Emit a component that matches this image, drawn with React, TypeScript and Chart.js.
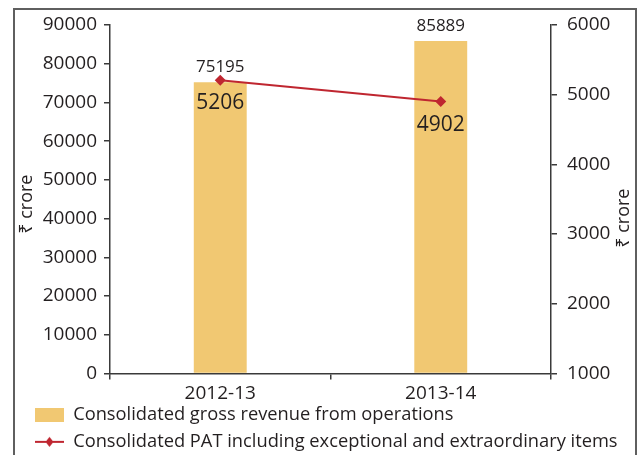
import React, { useEffect, useRef } from 'react';
import { Chart, registerables } from 'chart.js';

Chart.register(...registerables);

const categories = ['2012-13', '2013-14'];
const revenue = [75195, 85889];
const pat = [5206, 4902];
const revenueLabel = 'Consolidated gross revenue from operations';
const patLabel = 'Consolidated PAT including exceptional and extraordinary items';
const yTitle = '₹ crore';
const leftRange = [0, 90000, 10000];
const rightRange = [1000, 6000, 1000];

const FONT = '"Open Sans", "Noto Sans", "DejaVu Sans", sans-serif';
const BAR = '#F1C872';
const RED = '#BF2630';
const AXIS = '#3a3a3a';
const TXT = '#231F20';

export default function App() {
  const ref = useRef<HTMLCanvasElement>(null);

  useEffect(() => {
    const canvas = ref.current;
    if (!canvas) return;

    const swBar = document.createElement('canvas');
    swBar.width = 29;
    swBar.height = 14;
    const b = swBar.getContext('2d')!;
    b.fillStyle = BAR;
    b.fillRect(0, 0, 29, 14);

    const swLine = document.createElement('canvas');
    swLine.width = 29;
    swLine.height = 14;
    const l = swLine.getContext('2d')!;
    l.strokeStyle = RED;
    l.lineWidth = 2;
    l.beginPath();
    l.moveTo(0, 7);
    l.lineTo(29, 7);
    l.stroke();
    l.fillStyle = RED;
    l.beginPath();
    l.moveTo(14.5, 2);
    l.lineTo(18.5, 7);
    l.lineTo(14.5, 12);
    l.lineTo(10.5, 7);
    l.closePath();
    l.fill();

    const labelsPlugin = {
      id: 'valueLabels',
      afterLayout(chart: any) {
        const lg = chart.legend;
        if (lg) {
          lg.top -= 9;
          lg.bottom -= 9;
        }
      },
      afterDatasetsDraw(chart: any) {
        const ctx = chart.ctx;
        ctx.save();
        ctx.fillStyle = TXT;
        ctx.textAlign = 'center';
        ctx.textBaseline = 'alphabetic';
        ctx.font = `17px ${FONT}`;
        chart.getDatasetMeta(0).data.forEach((el: any, i: number) => {
          ctx.fillText(String(revenue[i]), el.x, el.y - 10);
        });
        ctx.font = `21px ${FONT}`;
        chart.getDatasetMeta(1).data.forEach((el: any, i: number) => {
          ctx.fillText(String(pat[i]), el.x, el.y + 29);
        });
        const ca = chart.chartArea;
        const mid = (ca.top + ca.bottom) / 2;
        ctx.font = `18px ${FONT}`;
        ctx.textBaseline = 'middle';
        ctx.save();
        ctx.translate(chart.scales.y.left + 1, mid + 5);
        ctx.rotate(-Math.PI / 2);
        ctx.fillText(yTitle, 0, 0);
        ctx.restore();
        ctx.save();
        ctx.translate(chart.scales.y1.right - 19, mid + 19);
        ctx.rotate(-Math.PI / 2);
        ctx.fillText(yTitle, 0, 0);
        ctx.restore();
        ctx.restore();
      },
    };

    const tickFont = { family: FONT, size: 19 };
    const gridOpts = { drawOnChartArea: false, drawTicks: true, tickLength: 6, color: AXIS, lineWidth: 1.5 };
    const borderOpts = { display: true, color: AXIS, width: 1.5 };

    const chart = new Chart(canvas, {
      type: 'bar',
      data: {
        labels: categories,
        datasets: [
          {
            type: 'bar',
            label: revenueLabel,
            data: revenue,
            backgroundColor: BAR,
            yAxisID: 'y',
            barPercentage: 0.24,
            categoryPercentage: 1,
            order: 2,
          },
          {
            type: 'line',
            label: patLabel,
            data: pat,
            borderColor: RED,
            backgroundColor: RED,
            borderWidth: 2,
            pointStyle: 'rectRot',
            pointRadius: 5.5,
            pointBorderWidth: 0,
            yAxisID: 'y1',
            order: 1,
          },
        ],
      } as any,
      options: {
        responsive: false,
        animation: false,
        devicePixelRatio: 1,
        layout: { padding: { left: 26, right: 0, top: 25, bottom: 0 } },
        plugins: {
          tooltip: { enabled: false },
          legend: {
            position: 'bottom',
            align: 'start',
            labels: {
              usePointStyle: true,
              pointStyleWidth: 29,
              boxHeight: 14,
              padding: 9,
              color: TXT,
              font: { family: FONT, size: 18.3 },
              generateLabels: () => [
                { text: revenueLabel, pointStyle: swBar, datasetIndex: 0, hidden: false, fillStyle: BAR, strokeStyle: BAR, lineWidth: 0, fontColor: TXT },
                { text: patLabel, pointStyle: swLine, datasetIndex: 1, hidden: false, fillStyle: RED, strokeStyle: RED, lineWidth: 0, fontColor: TXT },
              ] as any,
            },
          },
        },
        scales: {
          x: {
            offset: true,
            grid: { ...gridOpts, offset: true },
            border: borderOpts,
            ticks: { font: tickFont, color: TXT, padding: 3, maxRotation: 0 },
            afterFit: (s: any) => { s.height = 32; },
          },
          y: {
            position: 'left',
            min: leftRange[0],
            max: leftRange[1],
            grid: gridOpts,
            border: borderOpts,
            ticks: { stepSize: leftRange[2], font: tickFont, color: TXT, padding: 7, callback: (v: any) => String(v) },
            afterFit: (s: any) => { s.width = 84; },
          },
          y1: {
            position: 'right',
            min: rightRange[0],
            max: rightRange[1],
            grid: gridOpts,
            border: borderOpts,
            ticks: { stepSize: rightRange[2], font: tickFont, color: TXT, padding: 10, callback: (v: any) => String(v) },
            afterFit: (s: any) => { s.width = 92; },
          },
        },
      } as any,
      plugins: [labelsPlugin],
    });

    return () => chart.destroy();
  }, []);

  return (
    <div style={{ position: 'fixed', left: 0, top: 0, width: 643, height: 455, overflow: 'hidden', background: '#fff' }}>
      <div
        style={{
          position: 'absolute',
          left: 13,
          top: 8,
          width: 624,
          height: 470,
          border: '2px solid #5f5f5f',
          boxSizing: 'border-box',
        }}
      />
      <canvas ref={ref} width={643} height={470} style={{ position: 'absolute', left: 0, top: 0, display: 'block' }} />
    </div>
  );
}
